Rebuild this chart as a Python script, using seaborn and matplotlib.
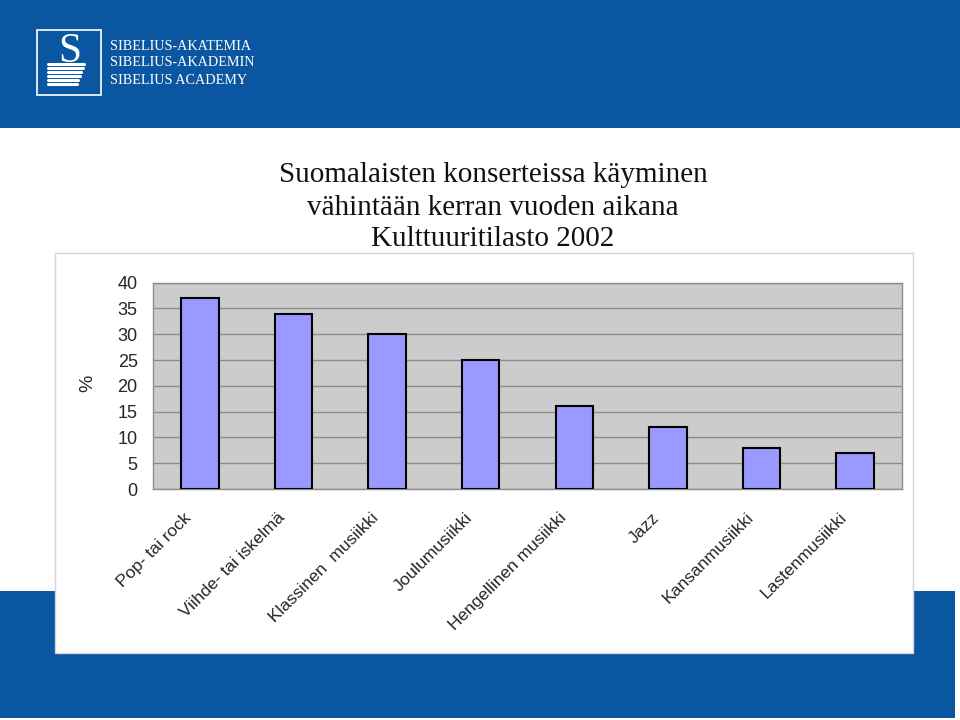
import matplotlib
matplotlib.use("Agg")
import matplotlib.pyplot as plt
import seaborn as sns
import pandas as pd
from matplotlib.patches import Rectangle
from matplotlib.lines import Line2D

categories = ["Pop- tai rock", "Viihde- tai iskelmä", "Klassinen  musiikki", "Joulumusiikki",
              "Hengellinen musiikki", "Jazz", "Kansanmusiikki", "Lastenmusiikki"]
values = [37, 34, 30, 25, 16, 12, 8, 7]
yticks = [0, 5, 10, 15, 20, 25, 30, 35, 40]
title_lines = ["Suomalaisten konserteissa käyminen", "vähintään kerran vuoden aikana", "Kulttuuritilasto 2002"]
logo_lines = ["SIBELIUS-AKATEMIA", "SIBELIUS-AKADEMIN", "SIBELIUS ACADEMY"]

sns.set_theme(style="white")
plt.rcParams['font.family'] = ['Liberation Sans', 'DejaVu Sans']

W, H = 960, 720
BLUE = "#0A56A0"
fig = plt.figure(figsize=(9.6, 7.2), dpi=100)
fig.patch.set_facecolor("white")

def fx(x):
    return x / W

def fy(y):
    return 1 - y / H

# blue bands
fig.patches.append(Rectangle((0, fy(128)), 1, 128 / H, transform=fig.transFigure,
                             facecolor=BLUE, edgecolor="none", zorder=0))
fig.patches.append(Rectangle((0, fy(718)), fx(955), 127 / H, transform=fig.transFigure,
                             facecolor=BLUE, edgecolor="none", zorder=0))
# white chart box
fig.patches.append(Rectangle((fx(55), fy(653)), fx(913 - 55), (653 - 253) / H, transform=fig.transFigure,
                             facecolor="white", edgecolor="#D4D4D4", linewidth=1, zorder=1))

# logo
fig.patches.append(Rectangle((fx(37), fy(95)), fx(64), 65 / H, transform=fig.transFigure,
                             facecolor="none", edgecolor="white", linewidth=1.2, zorder=2))
fig.text(fx(70), fy(52), "S", color="white", fontsize=30, family="Liberation Serif",
         ha="center", va="center", zorder=3)
for i, yy in enumerate([64, 68, 72, 76, 80, 84]):
    fig.lines.append(Line2D([fx(48), fx(84 - i * 1.5)], [fy(yy), fy(yy)], transform=fig.transFigure,
                            color="white", linewidth=2.2, zorder=3))
for txt, yy in zip(logo_lines, [46, 63, 81]):
    fig.text(fx(110), fy(yy), txt, color="white", fontsize=10.2, family="Liberation Serif",
             ha="left", va="center", zorder=3)

# title
for txt, yy in zip(title_lines, [175, 208, 239]):
    fig.text(fx(493), fy(yy), txt, fontsize=21, family="Liberation Serif", ha="center",
             va="center", color="#111111", zorder=3)

# axes
ax = fig.add_axes([fx(153), fy(489), fx(902 - 153), (489 - 282.7) / H], zorder=5)
ax.set_facecolor("#CCCCCC")
df = pd.DataFrame({"cat": categories, "val": values})
sns.barplot(data=df, x="cat", y="val", ax=ax, color="#9999FF", saturation=1,
            edgecolor="black", linewidth=1.5, width=0.4, zorder=3)
ax.set_ylim(0, 40)
ax.set_xlim(-0.5, len(categories) - 0.5)
ax.set_yticks(yticks)
ax.set_yticklabels([str(t) for t in yticks], fontsize=13)
ax.yaxis.grid(True, color="#8C8C8C", linewidth=1, zorder=1)
ax.set_axisbelow(True)
ax.set_xlabel("")
ax.set_ylabel("")
# label anchors slightly left of the category centres (tick marks themselves are hidden)
ax.set_xticks([i - 0.17 for i in range(len(categories))])
ax.set_xticklabels(categories, rotation=45, ha="right", va="top", rotation_mode="anchor",
                   fontsize=12.5)
ax.set_xticks([i - 0.5 for i in range(len(categories) + 1)], minor=True)
ax.tick_params(axis="x", which="major", length=0, pad=15)
ax.tick_params(axis="x", which="minor", length=4, color="#8C8C8C", width=1, direction="out")
ax.tick_params(axis="y", length=5, color="#8C8C8C", width=1, direction="out", pad=6)
for s in ax.spines.values():
    s.set_color("#8C8C8C")
    s.set_linewidth(1)

fig.text(fx(88), fy(383), "%", fontsize=14, rotation=90, ha="center", va="center", zorder=6)

fig.savefig("out.png", dpi=100)
